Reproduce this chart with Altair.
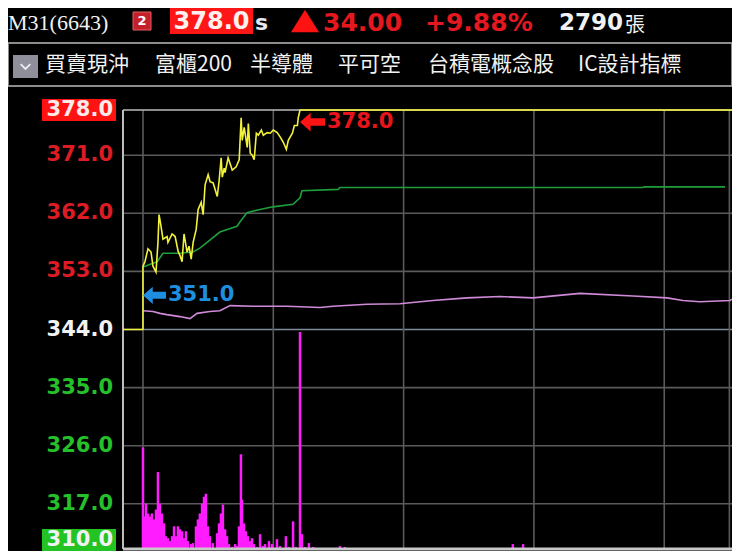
import altair as alt
import pandas as pd

# ---------------- data ----------------
# minutes after 09:00 and traded price (yellow)
price_t = [-9.2, 0, 0, 0.9, 2.3, 3.7, 4.6, 6.0, 6.9, 7.4, 8.3, 9.2, 11.1, 11.5, 13.4, 14.8, 16.2, 17.1,
           18.0, 18.9, 20.3, 21.2, 22.2, 23.1, 24.5, 25.4, 26.8, 27.7, 28.6, 30.0, 30.9, 32.3, 34.2, 35.1,
           36.0, 36.5, 37.4, 37.8, 39.2, 41.1, 42.9, 44.3, 45.2, 45.7, 46.6, 48.0, 48.5, 49.4, 50.3, 51.2,
           52.2, 53.1, 54.5, 55.4, 57.2, 58.6, 60.0, 61.8, 63.2, 64.6, 66.0, 66.9, 68.8, 69.7, 71.1, 71.5,
           72.3, 271.2]
price_p = [344, 344, 353.8, 354.5, 356.5, 356.0, 353.8, 352.9, 357.5, 361.8, 360.0, 358.0, 358.4, 357.5,
           358.8, 358.4, 356.1, 355.4, 354.5, 358.8, 356.0, 356.9, 354.9, 357.5, 359.5, 362.6, 363.7, 361.8,
           366.4, 368.0, 366.9, 366.7, 364.6, 367.2, 370.6, 367.6, 369.0, 368.3, 370.6, 368.7, 369.2, 370.3,
           376.8, 373.3, 375.3, 372.2, 375.9, 371.3, 371.0, 370.3, 374.4, 374.1, 374.9, 374.1, 374.5, 374.4,
           374.9, 374.5, 373.8, 373.0, 371.9, 373.3, 374.4, 375.6, 375.6, 376.8, 378, 378]

# average price (green)
avg_t = [0, 6.5, 9.2, 17.1, 23.0, 26.2, 29.5, 35.4, 43.3, 44.7, 47.9, 53.9, 59.8, 69.1, 72.3, 73.2,
         89.8, 90.7, 230.2, 230.7, 268.0]
avg_p = [353.7, 354.5, 355.8, 355.8, 356.0, 356.6, 357.5, 359.1, 360.0, 360.7, 362.1, 362.6, 363.0,
         363.4, 364.4, 365.5, 365.7, 366.0, 366.0, 366.1, 366.1]

# indicator line (violet)
ind_t = [0, 4.6, 7.8, 11.0, 17.0, 21.6, 24.9, 30.8, 35.4, 40.1, 50.6, 66.3, 81.5, 87.5, 103.1, 118.3,
         133.5, 149.2, 164.4, 179.6, 201.2, 225.6, 241.3, 248.6, 256.4, 270.3, 271.2]
ind_p = [346.9, 346.8, 346.5, 346.3, 346.0, 345.7, 346.5, 346.8, 346.9, 347.7, 347.6, 347.6, 347.4,
         347.6, 347.9, 348.0, 348.5, 348.9, 349.1, 348.9, 349.6, 349.2, 348.9, 348.5, 348.3, 348.5, 348.7]

# volume bars (magenta)
vol_t = [0.0, 0.5, 1.4, 2.3, 3.2, 4.1, 5.1, 6.0, 6.9, 7.8, 8.7, 9.7, 10.6, 11.5, 12.4, 13.4, 14.3, 15.2,
         16.1, 17.0, 18.0, 18.9, 19.8, 20.7, 22.1, 23.0, 24.4, 25.3, 26.2, 27.2, 28.1, 29.0, 29.9, 30.8,
         32.2, 34.1, 35.0, 35.9, 36.8, 37.8, 38.7, 39.6, 41.0, 42.4, 43.3, 44.2, 45.1, 45.6, 46.5, 47.4,
         48.3, 49.3, 50.2, 51.1, 52.5, 53.9, 55.2, 56.2, 58.0, 59.4, 61.7, 63.1, 65.8, 67.2, 69.1, 70.4,
         72.3, 73.2, 74.6, 76.4, 78.3, 90.7, 93.0, 100.8, 138.1, 170.3, 175.0, 248.6]
vol_v = [103, 33, 46, 36, 33, 36, 30, 40, 78, 46, 36, 26, 13, 11, 8, 13, 23, 13, 23, 20, 18, 11, 18, 8,
         5, 6, 23, 30, 36, 46, 53, 56, 23, 13, 6, 16, 26, 36, 45, 20, 13, 5, 2, 5, 3, 23, 96, 50, 26, 18,
         13, 8, 11, 5, 2, 15, 3, 5, 8, 5, 10, 3, 13, 2, 28, 2, 220, 15, 2, 6, 2, 3, 2, 1, 1, 5, 5, 1]
VOL_MAX = 445  # volume that would fill the whole panel height

tick_values = [378, 371, 362, 353, 344, 335, 326, 317, 310]
grid_prices = [371, 362, 353, 344, 335, 326, 317]
grid_times = [0, 60, 120, 180, 240, 270]
mark_times = [72.3, 0.0]
mark_prices = [378.0, 351.0]
REF = 344
P_LO, P_HI = 310, 378
T_LO, T_HI = -9.2, 271.2

header_texts = ["M31(6643)", "2", "378.0", "s", "34.00", "+9.88%", "2790", "張"]
group_names = ["買賣現沖", "富櫃200", "半導體", "平可空", "台積電概念股", "IC設計指標"]

# ---------------- tables ----------------
price_df = pd.DataFrame({"t": price_t, "p": price_p, "i": list(range(len(price_t)))})
avg_df = pd.DataFrame({"t": avg_t, "p": avg_p})
ind_df = pd.DataFrame({"t": ind_t, "p": ind_p})
vol_df = pd.DataFrame({"t": vol_t, "v": vol_v})

KIND_COLOR = {"limup": "#fbeaea", "up": "#dc1c24", "flat": "#f2f2f2", "down": "#25c02a", "limdown": "#f2f2f2"}
BOX_COLOR = {"limup": "#ff1212", "limdown": "#22c322"}


def kind_of(v):
    if v == P_HI:
        return "limup"
    if v == P_LO:
        return "limdown"
    if v == REF:
        return "flat"
    return "up" if v > REF else "down"


tick_df = pd.DataFrame({"p": tick_values})
tick_df["label"] = tick_df["p"].map(lambda v: f"{v:.1f}")
tick_df["kind"] = tick_df["p"].map(kind_of)
tick_df["col"] = tick_df["kind"].map(KIND_COLOR)
# bottom label nudged up slightly so it stays inside the picture
tick_df["ly"] = tick_df["p"].map(lambda v: v + 1.4 if v == P_LO else v)
box_df = tick_df[tick_df["kind"].isin(["limup", "limdown"])].copy()
box_df["hi"] = box_df["ly"] + 1.7
box_df["lo"] = box_df["ly"] - 1.7
box_df["bcol"] = box_df["kind"].map(BOX_COLOR)

hgrid_df = pd.DataFrame({"p": grid_prices})
hgrid_df["col"] = hgrid_df["p"].map(lambda v: "#7d8c98" if v == REF else "#5a5a5a")
vgrid_df = pd.DataFrame({"t": grid_times})
hl_df = pd.DataFrame({"t": mark_times, "p": mark_prices})
hl_df["label"] = hl_df["p"].map(lambda v: f"{v:.1f}")
hi_df = hl_df.iloc[[0]]
lo_df = hl_df.iloc[[1]]
frame_df = pd.DataFrame({"t": [T_LO], "top": [P_HI], "bot": [P_LO]})
one = pd.DataFrame({"k": [0]})

# ---------------- scales ----------------
W, H = 609, 439
xs = alt.Scale(domain=[T_LO, T_HI], nice=False, zero=False)
ys = alt.Scale(domain=[P_LO, P_HI], nice=False, zero=False)


def X(f="t"):
    return alt.X(f"{f}:Q", scale=xs, axis=None)


def Y(f="p"):
    return alt.Y(f"{f}:Q", scale=ys, axis=None)


ARROW = "M -1 0 L -0.15 -0.75 L -0.15 -0.3 L 1 -0.3 L 1 0.3 L -0.15 0.3 L -0.15 0.75 Z"
NUMFONT = "DejaVu Sans"
CJK = "Noto Sans CJK TC"

vol_layer = alt.Chart(vol_df).transform_calculate(
    vtop=f"{P_LO} + datum.v / {VOL_MAX} * {P_HI - P_LO}", vbot=f"{P_LO}"
).mark_rule(color="#ff1cff", strokeWidth=2.5).encode(x=X(), y=Y("vtop"), y2=alt.Y2("vbot:Q"))

hgrid = alt.Chart(hgrid_df).mark_rule(strokeWidth=1.6).encode(y=Y(), color=alt.Color("col:N", scale=None))
vgrid = alt.Chart(vgrid_df).mark_rule(strokeWidth=1.6, color="#5a5a5a").encode(x=X())
left_border = alt.Chart(frame_df).mark_rule(strokeWidth=2, color="#bdbdbd").encode(x=X())
top_border = alt.Chart(frame_df).mark_rule(strokeWidth=1.6, color="#bdbdbd").encode(y=Y("top"))
bottom_border = alt.Chart(frame_df).mark_rule(strokeWidth=3, color="#c8c8c8").encode(y=Y("bot"))

ind_line = alt.Chart(ind_df).mark_line(color="#d08ad8", strokeWidth=1.6).encode(x=X(), y=Y())
avg_line = alt.Chart(avg_df).mark_line(color="#1f9e3c", strokeWidth=1.6).encode(x=X(), y=Y())
price_line = alt.Chart(price_df).mark_line(color="#f2f23a", strokeWidth=1.6).encode(
    x=X(), y=Y(), order=alt.Order("i:Q"))

hi_arrow = alt.Chart(hi_df).mark_point(shape=ARROW, filled=True, size=625, color="#ff1414",
                                        opacity=1, xOffset=12.5, yOffset=12).encode(x=X(), y=Y())
hi_text = alt.Chart(hi_df).mark_text(align="left", baseline="middle", dx=27, dy=12, font=NUMFONT,
                                      fontWeight="bold", fontSize=21, color="#e8141c").encode(
    x=X(), y=Y(), text="label:N")
lo_arrow = alt.Chart(lo_df).mark_point(shape=ARROW, filled=True, size=529, color="#1e8fe0",
                                        opacity=1, xOffset=11.5, yOffset=11).encode(x=X(), y=Y())
lo_text = alt.Chart(lo_df).mark_text(align="left", baseline="middle", dx=25, dy=11, font=NUMFONT,
                                      fontWeight="bold", fontSize=21, color="#1e8fe0").encode(
    x=X(), y=Y(), text="label:N")

label_boxes = alt.Chart(box_df).mark_rect().encode(
    x=alt.value(-81), x2=alt.value(-7), y=Y("hi"), y2=alt.Y2("lo:Q"),
    color=alt.Color("bcol:N", scale=None),
)
tick_labels = alt.Chart(tick_df).mark_text(align="right", baseline="middle", font=NUMFONT,
                                           fontWeight="bold", fontSize=21).encode(
    x=alt.value(-10), y=Y("ly"), text="label:N", color=alt.Color("col:N", scale=None),
)


# ---------------- header ----------------
def txt(text, x, y, size, color, weight="bold", font=NUMFONT, align="left"):
    return alt.Chart(one).mark_text(align=align, baseline="middle", fontSize=size, font=font,
                                    fontWeight=weight, color=color).encode(
        x=alt.value(x), y=alt.value(y), text=alt.value(text))


def box(x1, x2, y1, y2, fill, stroke=None, sw=0):
    kw = {"fill": fill}
    if stroke:
        kw.update(stroke=stroke, strokeWidth=sw)
    return alt.Chart(one).mark_rect(**kw).encode(
        x=alt.value(x1), x2=alt.value(x2), y=alt.value(y1), y2=alt.value(y2))


header = [
    txt(header_texts[0], -115, -87, 22, "#f2f2f2", weight="normal", font="Liberation Serif"),
    box(10, 28, -98, -80, "#c41f2b", "#e06060", 1),
    txt(header_texts[1], 19, -89, 13, "#ffffff", align="center"),
    box(47, 130, -104, -76, "#ff1616"),
    txt(header_texts[2], 88.5, -88, 24, "#fff0f0", align="center"),
    txt(header_texts[3], 132, -87, 22, "#e6e8f2"),
    alt.Chart(one).mark_point(shape="M -1 0.8 L 0 -0.8 L 1 0.8 Z", filled=True, size=784,
                              color="#ff1212", opacity=1).encode(x=alt.value(182), y=alt.value(-89)),
    txt(header_texts[4], 200, -87, 25, "#e5171f"),
    txt(header_texts[5], 302, -87, 25, "#e5171f"),
    txt(header_texts[6], 436, -87, 23, "#f2f2f2"),
    txt(header_texts[7], 502, -84, 20, "#f2f2f2", weight="normal", font=CJK),
    box(-115, W, -67, -24, "#000000", "#8c8c8c", 2),
    box(-110, -85, -55, -32, "#8f8f9c"),
    alt.Chart(one).mark_point(shape="M -0.6 -0.3 L 0 0.3 L 0.6 -0.3", filled=False, size=256,
                              color="#e8e8f0", strokeWidth=2, opacity=1).encode(
        x=alt.value(-97.5), y=alt.value(-43.5)),
]
for name, xpos in zip(group_names, [-78, 32, 127, 215, 305, 455]):
    header.append(txt(name, xpos, -45, 21, "#f2f2f2", weight="normal", font=CJK))

chart = alt.layer(
    hgrid, vgrid, vol_layer, left_border, top_border, bottom_border, ind_line, avg_line,
    price_line, hi_arrow, hi_text, lo_arrow, lo_text, label_boxes, tick_labels, *header
).properties(
    width=W, height=H, background="#000000",
    padding={"left": 115, "top": 102, "right": 0, "bottom": 2},
    autosize=alt.AutoSizeParams(type="none"),
).configure_view(stroke="transparent")

chart.save("out.html", embed_options={"renderer": "svg", "actions": False})
